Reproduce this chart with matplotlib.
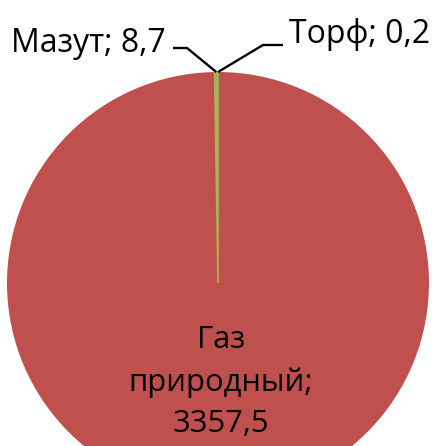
import numpy as np
import matplotlib
matplotlib.use("Agg")
import matplotlib.pyplot as plt

# =========================================================================
# 1. DATOS (orden de los sectores en sentido horario desde las 12)
# =========================================================================
categorias = ["Торф", "Газ природный", "Мазут"]
valores = [0.2, 3357.5, 8.7]
colores = ["#4F81BD", "#C0504D", "#A8B352"]

etiquetas = ["Торф; 0,2", "Газ\nприродный;\n3357,5", "Мазут; 8,7"]

# =========================================================================
# 2. FIGURA (coordenadas en píxeles, y hacia arriba)
# =========================================================================
W, H = 432, 446
fig = plt.figure(figsize=(W / 100, H / 100), dpi=100)
ax = fig.add_axes([0, 0, 1, 1])

centro = (218, H - 283)
radio = 211

wedges, _ = ax.pie(valores, colors=colores, startangle=90, counterclock=False,
                   center=centro, radius=radio,
                   wedgeprops=dict(linewidth=0))
# el sector del mazut se ve como una línea fina: le damos borde de su color
wedges[2].set_edgecolor(colores[2])
wedges[2].set_linewidth(1.2)

ax.set_xlim(0, W)
ax.set_ylim(0, H)
ax.set_aspect("equal")
ax.axis("off")

fuente = dict(family=["Open Sans", "DejaVu Sans"], color="black")

# etiqueta interior del gas
ax.text(221, H - 432, etiquetas[1], ha="center", va="baseline",
        linespacing=1.5, size=22.3, **fuente)


def punto_borde(w):
    # punto del borde del sector en su ángulo medio
    ang = np.deg2rad((w.theta1 + w.theta2) / 2)
    return centro[0] + radio * np.cos(ang), centro[1] + radio * np.sin(ang)


# líneas guía de los sectores pequeños
x0, y0 = punto_borde(wedges[2])
ax.plot([x0, 187, 173], [y0, H - 48, H - 48], color="black", lw=1.7,
        solid_capstyle="butt")
ax.text(166, H - 52, etiquetas[2], ha="right", va="baseline", size=23, **fuente)

x1, y1 = punto_borde(wedges[0])
ax.plot([x1, 263, 283], [y1, H - 45, H - 45], color="black", lw=1.7,
        solid_capstyle="butt")
ax.text(289, H - 43, etiquetas[0], ha="left", va="baseline", size=23, **fuente)

fig.savefig("out.png", dpi=100)
plt.close(fig)
